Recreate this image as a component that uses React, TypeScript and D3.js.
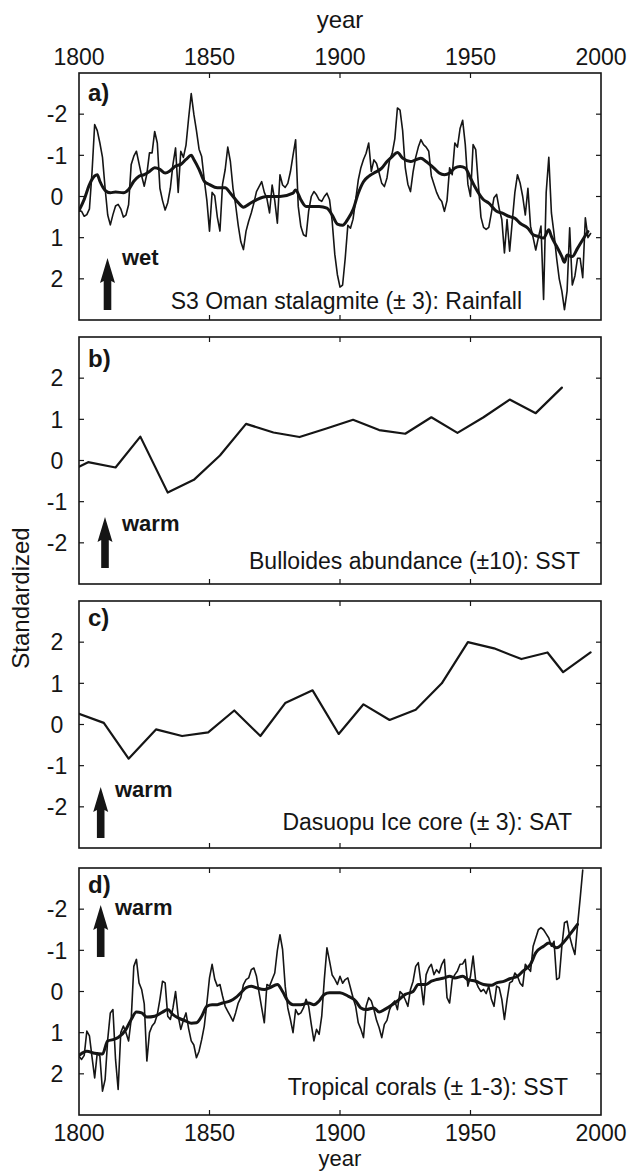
import React from "react";
import * as d3 from "d3";

// ---------- data ----------
const xTickYears = [1850, 1900, 1950];
const xLabelYears = [1800, 1850, 1900, 1950, 2000];
const yTickValues = [-2, -1, 0, 1, 2];

// a) S3 Oman stalagmite, annual values from 1800
const omanStartYear = 1800;
const omanAnnual = [
  0.35, 0.36, 0.48, 0.44, 0.3, -0.6, -1.75, -1.6, -1.3, -0.95,
  -0.2, 0.45, 0.69, 0.44, 0.23, 0.19, 0.3, 0.5, 0.45, 0.2,
  -0.78, -0.98, -1.1, -0.8, -0.5, -0.25, -0.55, -1.06, -1.06, -1.58,
  -1.3, -0.2, 0.1, 0.33, 0.15, -0.2, -0.78, -1.18, -0.1, -1.1,
  -0.95, -1.25, -1.9, -2.5, -2.0, -1.6, -1.15, -0.97, -0.4, 0.1,
  0.84, -0.1, -0.02, 0.5, 0.84, -0.3, -0.65, -1.2, -0.85, -0.2,
  0.2, 0.7, 1.1, 1.29, 0.84, 0.6, 0.4, 0.16, -0.12, -0.24,
  -0.36, -0.1, 0.05, 0.4, -0.28, 0.1, 0.65, -0.53, -0.28, -0.22,
  -0.32, -0.6, -1.0, -1.38, 0.24, 0.73, 0.93, 0.97, 0.35, 0.0,
  -0.12, -0.04, 0.08, 0.12, 0.0, -0.08, 0.08, 0.6, 1.4, 1.9,
  2.2, 2.15, 1.5, 0.7, 0.77, 0.55, 0.08, -0.4, -0.7, -0.9,
  -1.05, -1.3, -0.61, -0.89, -0.8, -0.57, -0.32, -0.24, -0.45, -0.89,
  -1.05, -1.4, -2.15, -2.1, -1.6, -0.7, -0.3, -0.12, -0.6, -0.95,
  -1.2, -1.38, -1.26, -1.2, -1.1, -0.5, -0.3, -0.1, 0.04, 0.12,
  0.36, 0.1, -0.7, -0.53, -1.3, -1.2, -1.65, -1.85, -1.26, -0.3,
  0.0, -1.26, -1.14, -0.3, 0.5, 0.75, 0.8, 0.75, 0.4, 0.03,
  -0.05, 0.3, 0.56, 1.37, 0.56, 1.33, 0.6, -0.1, -0.53, -0.33,
  0.0, 0.45, -0.2, 0.72, 1.0, 1.3, 1.0, 0.72, 2.5, -0.1,
  -0.95, 0.4, 0.9, 1.5, 2.0, 2.3, 2.75, 2.3, 0.76, 2.15,
  1.93, 1.5, 1.5, 1.97, 0.52, 1.0, 0.9,
];
const omanSmoothYears = [
  1800, 1802, 1804, 1806, 1807, 1808, 1810, 1812, 1814, 1817,
  1819, 1821, 1823, 1825, 1827, 1829, 1831, 1833, 1835, 1837,
  1839, 1841, 1843, 1844, 1846, 1848, 1850, 1853, 1856, 1858,
  1861, 1863, 1865, 1868, 1872, 1877, 1882, 1883, 1885, 1887,
  1892, 1895, 1897, 1899, 1901, 1903, 1905, 1907, 1909, 1911,
  1913, 1916, 1918, 1920, 1922, 1924, 1927, 1929, 1931, 1933,
  1936, 1938, 1940, 1942, 1944, 1946, 1948, 1950, 1952, 1955,
  1957, 1960, 1962, 1965, 1967, 1969, 1972, 1974, 1976, 1978,
  1980, 1981, 1983, 1985, 1986, 1987, 1989, 1991, 1993, 1995,
];
const omanSmooth = [
  0.34, 0.07, -0.29, -0.5, -0.53, -0.37, -0.15, -0.09, -0.11, -0.09,
  -0.17, -0.37, -0.49, -0.53, -0.61, -0.7, -0.66, -0.57, -0.63, -0.74,
  -0.78, -0.9, -1.0, -0.9, -0.66, -0.37, -0.29, -0.21, -0.21, -0.08,
  0.15, 0.26, 0.19, 0.08, 0.0, 0.0, -0.08, -0.16, 0.08, 0.24,
  0.24, 0.28, 0.45, 0.67, 0.7, 0.55, 0.32, -0.08, -0.36, -0.49,
  -0.57, -0.69, -0.85, -0.97, -1.07, -0.93, -0.85, -0.89, -0.93, -0.85,
  -0.69, -0.57, -0.53, -0.57, -0.69, -0.73, -0.69, -0.45, -0.2, 0.08,
  0.16, 0.36, 0.4, 0.49, 0.53, 0.65, 0.77, 0.93, 0.97, 1.01,
  0.81, 0.97, 1.21, 1.46, 1.6, 1.42, 1.46, 1.26, 1.05, 0.85,
];

// b) Bulloides abundance
const bulloidesYears = [
  1800, 1803.5, 1814, 1823.5, 1834, 1844, 1854, 1864, 1874.5, 1884.5,
  1894.5, 1905, 1915, 1925, 1935, 1945, 1955, 1965, 1975, 1985,
];
const bulloidesValues = [
  -0.15, -0.04, -0.17, 0.58, -0.78, -0.47, 0.12, 0.89, 0.68, 0.57,
  0.77, 0.99, 0.74, 0.65, 1.05, 0.67, 1.05, 1.48, 1.15, 1.77,
];

// c) Dasuopu ice core
const dasuopuYears = [
  1800, 1809.5, 1819, 1829.5, 1839.5, 1849.5, 1859.5, 1869.5, 1879, 1889.5,
  1899.5, 1909, 1919, 1929, 1939, 1949, 1959, 1969.5, 1979.5, 1985.5, 1996,
];
const dasuopuValues = [
  0.26, 0.04, -0.83, -0.12, -0.28, -0.19, 0.34, -0.28, 0.52, 0.83,
  -0.23, 0.49, 0.11, 0.36, 1.0, 2.0, 1.85, 1.59, 1.75, 1.27, 1.75,
];

// d) Tropical corals, annual values from 1800
const coralStartYear = 1800;
const coralAnnual = [
  1.57, 1.65, 1.55, 0.96, 1.08, 1.6, 2.1, 1.49, 1.57, 2.42,
  2.14, 1.17, 0.52, 0.44, 1.65, 2.38, 1.0, 0.84, 1.0, 1.2,
  0.68, -0.61, -0.78, -0.21, -0.05, 0.3, 1.69, 1.0, 0.84, 0.76,
  0.56, 0.19, -0.25, -0.21, 0.6, 0.68, 0.4, 0.0, 0.6, 0.92,
  0.7, 0.52, 0.9, 1.2, 1.3, 1.61, 1.45, 1.17, 0.84, 0.28,
  -0.33, -0.66, -0.3, -0.13, -0.17, 0.11, 0.36, 0.48, 0.6, 0.72,
  0.52, 0.28, 0.15, -0.17, -0.29, -0.33, -0.53, -0.57, -0.37, 0.03,
  0.4, 0.76, -0.17, -0.13, -0.29, -0.45, -1.0, -1.38, -1.02, -0.13,
  0.4, 0.68, 1.0, 0.44, 0.56, 0.52, 0.4, 0.19, 0.36, 0.8,
  1.2, 0.92, 1.04, 0.6, -0.3, -1.06, -0.74, -0.4, -0.3, -0.17,
  -0.37, -0.2, -0.29, -0.33, -0.09, 0.15, 0.36, 0.76, 0.92, 1.12,
  0.36, 0.15, 0.23, 0.44, 0.7, 0.88, 1.12, 0.8, 0.7, 0.44,
  0.3, 0.23, 0.44, 0.0, 0.07, 0.2, 0.36, -0.05, -0.25, -0.61,
  -0.7, -0.21, 0.32, -0.41, -0.57, -0.66, -0.41, -0.53, -0.45, -0.66,
  -0.78, 0.15, 0.28, -0.29, -0.41, -0.5, -0.66, -0.67, -0.78, -0.13,
  -0.37, -0.86, -0.25, -0.1, 0.0, -0.05, 0.05, -0.13, 0.19, 0.36,
  -0.13, -0.09, 0.19, 0.68, 0.2, -0.21, -0.25, -0.45, -0.37, -0.2,
  -0.13, -0.66, -0.57, -0.49, -1.1, -1.3, -1.5, -1.55, -1.5, -1.4,
  -1.3, -1.1, -1.22, -0.29, -0.33, -1.1, -1.67, -1.71, -1.34, -1.1,
  -0.9, -1.6, -2.25, -2.95,
];
const coralSmoothYears = [
  1800, 1803, 1806, 1809, 1811, 1813, 1815, 1818, 1820, 1822,
  1824, 1826, 1829, 1832, 1834, 1836, 1838, 1841, 1843, 1845,
  1847, 1849, 1851, 1853, 1855, 1858, 1860, 1862, 1864, 1866,
  1868, 1871, 1873, 1876, 1878, 1880, 1882, 1885, 1888, 1890,
  1892, 1894, 1896, 1900, 1903, 1906, 1908, 1910, 1913, 1915,
  1917, 1920, 1922, 1925, 1928, 1930, 1933, 1935, 1937, 1940,
  1942, 1944, 1947, 1949, 1952, 1955, 1958, 1960, 1963, 1965,
  1968, 1970, 1973, 1975, 1978, 1980, 1983, 1986, 1988, 1991,
];
const coralSmooth = [
  1.55, 1.45, 1.5, 1.52, 1.2, 1.17, 1.12, 0.92, 0.68, 0.5,
  0.52, 0.62, 0.6, 0.5, 0.44, 0.56, 0.64, 0.72, 0.77, 0.76,
  0.6, 0.36, 0.32, 0.32, 0.28, 0.23, 0.15, 0.03, -0.09, -0.13,
  -0.09, -0.05, -0.09, -0.17, 0.0, 0.23, 0.32, 0.32, 0.28, 0.32,
  0.23, 0.07, 0.03, 0.03, 0.11, 0.23, 0.4, 0.44, 0.4, 0.5,
  0.44, 0.32, 0.23, 0.07, 0.0, -0.17, -0.17, -0.25, -0.29, -0.33,
  -0.37, -0.33, -0.37, -0.29, -0.25, -0.17, -0.15, -0.21, -0.25, -0.31,
  -0.37, -0.49, -0.66, -0.94, -1.1, -1.18, -1.06, -1.22, -1.38, -1.63,
];

// ---------- layout ----------
const W = 630;
const H = 1171;
const X0 = 79;
const X1 = 601;
const PANEL_H = 247;
const FONT = "'Liberation Sans', Arial, Helvetica, sans-serif";
const INK = "#151515";
const FS = 23;

type Pt = { x: number; y: number };

const zipPairs = (xs: number[], ys: number[]): Pt[] => xs.map((x, i) => ({ x, y: ys[i] }));
const annualPairs = (start: number, ys: number[]): Pt[] => ys.map((y, i) => ({ x: start + i, y }));

type PanelSpec = {
  id: string;
  top: number;
  inverted: boolean;
  letter: string;
  letterDy: number;
  arrow: { x: number; tip: number; bottom: number };
  arrowWord: string;
  wordPos: { x: number; y: number };
  caption: string;
  captionEnd: { x: number; y: number };
  series: { pts: Pt[]; width: number; curve: any }[];
};

const panels: PanelSpec[] = [
  {
    id: "a",
    top: 73,
    inverted: true,
    letter: "a)",
    letterDy: 28,
    arrow: { x: 107.5, tip: 258, bottom: 310 },
    arrowWord: "wet",
    wordPos: { x: 122, y: 265 },
    caption: "S3 Oman stalagmite (\u00b1 3): Rainfall",
    captionEnd: { x: 522, y: 309 },
    series: [
      { pts: annualPairs(omanStartYear, omanAnnual), width: 1.6, curve: d3.curveLinear },
      { pts: zipPairs(omanSmoothYears, omanSmooth), width: 3, curve: d3.curveMonotoneX },
    ],
  },
  {
    id: "b",
    top: 337,
    inverted: false,
    letter: "b)",
    letterDy: 30,
    arrow: { x: 105, tip: 517, bottom: 568 },
    arrowWord: "warm",
    wordPos: { x: 122, y: 531 },
    caption: "Bulloides abundance (\u00b110): SST",
    captionEnd: { x: 580, y: 569 },
    series: [{ pts: zipPairs(bulloidesYears, bulloidesValues), width: 2.2, curve: d3.curveLinear }],
  },
  {
    id: "c",
    top: 601,
    inverted: false,
    letter: "c)",
    letterDy: 25,
    arrow: { x: 100.7, tip: 787, bottom: 838 },
    arrowWord: "warm",
    wordPos: { x: 115, y: 797 },
    caption: "Dasuopu Ice core (\u00b1 3): SAT",
    captionEnd: { x: 572, y: 830 },
    series: [{ pts: zipPairs(dasuopuYears, dasuopuValues), width: 2.2, curve: d3.curveLinear }],
  },
  {
    id: "d",
    top: 868,
    inverted: true,
    letter: "d)",
    letterDy: 25,
    arrow: { x: 100.7, tip: 905, bottom: 957 },
    arrowWord: "warm",
    wordPos: { x: 115, y: 915 },
    caption: "Tropical corals (\u00b1 1-3): SST",
    captionEnd: { x: 568, y: 1095 },
    series: [
      { pts: annualPairs(coralStartYear, coralAnnual), width: 1.6, curve: d3.curveLinear },
      { pts: zipPairs(coralSmoothYears, coralSmooth), width: 3, curve: d3.curveMonotoneX },
    ],
  },
];

const xScale = d3.scaleLinear().domain([1800, 2000]).range([X0, X1]);

function Arrow({ x, tip, bottom }: { x: number; tip: number; bottom: number }) {
  const headLen = 25;
  const headHalf = 7.5;
  const shaftHalf = 3.8;
  const p = d3.path();
  p.moveTo(x, tip);
  p.lineTo(x + headHalf, tip + headLen);
  p.lineTo(x + shaftHalf, tip + headLen - 2);
  p.lineTo(x + shaftHalf, bottom);
  p.lineTo(x - shaftHalf, bottom);
  p.lineTo(x - shaftHalf, tip + headLen - 2);
  p.lineTo(x - headHalf, tip + headLen);
  p.closePath();
  return <path d={p.toString()} fill={INK} />;
}

function Panel({ spec }: { spec: PanelSpec }) {
  const bottom = spec.top + PANEL_H;
  const yScale = d3
    .scaleLinear()
    .domain([-3, 3])
    .range(spec.inverted ? [spec.top, bottom] : [bottom, spec.top]);
  const clipId = `clip-${spec.id}`;
  return (
    <g>
      <defs>
        <clipPath id={clipId}>
          <rect x={X0} y={spec.top} width={X1 - X0} height={PANEL_H} />
        </clipPath>
      </defs>
      <g clipPath={`url(#${clipId})`}>
        {spec.series.map((s, i) => {
          const line = d3
            .line<Pt>()
            .x((d) => xScale(d.x))
            .y((d) => yScale(d.y))
            .curve(s.curve);
          return (
            <path
              key={i}
              d={line(s.pts) || ""}
              fill="none"
              stroke={INK}
              strokeWidth={s.width}
              strokeLinejoin="round"
              strokeLinecap="round"
            />
          );
        })}
      </g>
      {yTickValues.map((v) => (
        <g key={v}>
          <line x1={X0} x2={X0 + 5} y1={yScale(v)} y2={yScale(v)} stroke={INK} strokeWidth={1.2} />
          <line x1={X1 - 5} x2={X1} y1={yScale(v)} y2={yScale(v)} stroke={INK} strokeWidth={1.2} />
          <text
            x={57}
            y={yScale(v)}
            dy="0.36em"
            textAnchor="middle"
            fontSize={FS}
            fontFamily={FONT}
            fill={INK}
          >
            {String(v)}
          </text>
        </g>
      ))}
      {xTickYears.map((yr) => (
        <g key={yr}>
          <line x1={xScale(yr)} x2={xScale(yr)} y1={spec.top} y2={spec.top + 5} stroke={INK} strokeWidth={1.2} />
          <line x1={xScale(yr)} x2={xScale(yr)} y1={bottom - 5} y2={bottom} stroke={INK} strokeWidth={1.2} />
        </g>
      ))}
      <rect
        x={X0}
        y={spec.top}
        width={X1 - X0}
        height={PANEL_H}
        fill="none"
        stroke={INK}
        strokeWidth={1.6}
      />
      <text
        x={88}
        y={spec.top + spec.letterDy}
        fontSize={24}
        fontWeight="bold"
        fontFamily={FONT}
        fill={INK}
      >
        {spec.letter}
      </text>
      <Arrow {...spec.arrow} />
      <text
        x={spec.wordPos.x}
        y={spec.wordPos.y}
        fontSize={22}
        fontWeight="bold"
        fontFamily={FONT}
        fill={INK}
      >
        {spec.arrowWord}
      </text>
      <text
        x={spec.captionEnd.x}
        y={spec.captionEnd.y}
        textAnchor="end"
        fontSize={FS}
        fontFamily={FONT}
        fill={INK}
      >
        {spec.caption}
      </text>
    </g>
  );
}

export default function App() {
  const topPanel = panels[0];
  const bottomPanel = panels[panels.length - 1];
  return (
    <svg
      width={W}
      height={H}
      viewBox={`0 0 ${W} ${H}`}
      style={{ position: "absolute", left: 0, top: 0, display: "block", background: "#fff" }}
    >
      <rect x={0} y={0} width={W} height={H} fill="#fff" />
      <text x={(X0 + X1) / 2} y={28} textAnchor="middle" fontSize={24} fontFamily={FONT} fill={INK}>
        year
      </text>
      {xLabelYears.map((yr) => (
        <text
          key={`t${yr}`}
          x={xScale(yr)}
          y={topPanel.top - 8}
          textAnchor="middle"
          fontSize={FS}
          fontFamily={FONT}
          fill={INK}
        >
          {yr}
        </text>
      ))}
      {panels.map((p) => (
        <Panel key={p.id} spec={p} />
      ))}
      {xLabelYears.map((yr) => (
        <text
          key={`b${yr}`}
          x={xScale(yr)}
          y={bottomPanel.top + PANEL_H + 26}
          textAnchor="middle"
          fontSize={FS}
          fontFamily={FONT}
          fill={INK}
        >
          {yr}
        </text>
      ))}
      <text x={(X0 + X1) / 2} y={1166} textAnchor="middle" fontSize={22} fontFamily={FONT} fill={INK}>
        year
      </text>
      <text
        transform={`translate(29, 598) rotate(-90)`}
        textAnchor="middle"
        fontSize={24}
        fontFamily={FONT}
        fill={INK}
      >
        Standardized
      </text>
    </svg>
  );
}
